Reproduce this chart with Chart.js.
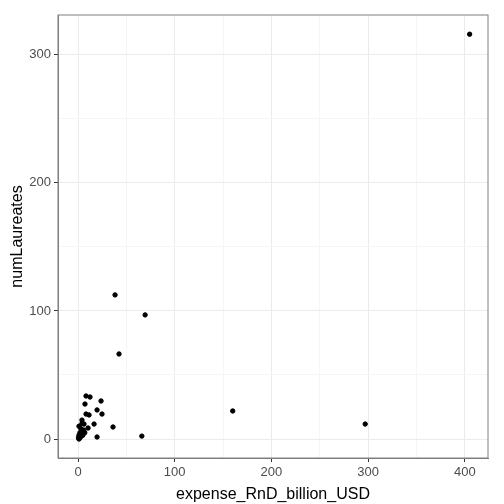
<!DOCTYPE html>
<html>
<head>
<script src="https://cdn.jsdelivr.net/npm/chart.js@4"></script>
<style>body{margin:0;background:#fff}#wrap{width:504px;height:504px}</style>
</head>
<body>
<div id="wrap"><canvas id="c"></canvas></div>
<script>
const expense = [8.3, 12.4, 23.8, 7.2, 19.7, 8.3, 11.4, 24.8, 4.1, 16.6, 6.2, 36.2, 10.4, 19.7, 66,
  1, 2, 3, 1, 4, 2, 5, 3, 6, 1, 4, 0.5, 2, 5, 7,
  38.3, 69.4, 42.4, 160, 297, 405];
const laureates = [33.6, 32.8, 29.7, 27.3, 22.7, 19.5, 18.8, 19.5, 14.8, 11.7, 11.7, 9.4, 8.6, 1.6, 2.3,
  0, 1, 2, 3, 4, 5, 6, 8, 7, 10, 12, 1, 2, 3, 5,
  112.5, 96.9, 66.4, 21.9, 11.7, 316];
const xTicks = [0, 50, 100, 150, 200, 250, 300, 350, 400];
const yTicks = [0, 50, 100, 150, 200, 250, 300];
const points = expense.map((x, i) => ({x: x, y: laureates[i]}));

const isMajor = ctx => ctx.tick && ctx.tick.value % 100 === 0;
const gridColor = ctx => isMajor(ctx) ? '#ebebeb' : '#f5f5f5';
const tickColor = ctx => isMajor(ctx) ? '#333' : 'rgba(0,0,0,0)';
const tickCb = v => (v % 100 === 0 ? v : '');
const font = {family: 'Liberation Sans', size: 13};

new Chart(document.getElementById('c'), {
  type: 'scatter',
  data: {datasets: [{data: points, backgroundColor: '#000', borderColor: '#000', pointRadius: 2.2}]},
  options: {
    responsive: true, maintainAspectRatio: false, animation: false,
    layout: {padding: {top: 15, right: 16, left: 8, bottom: 0}},
    plugins: {legend: {display: false}, tooltip: {enabled: false}},
    scales: {
      x: {
        min: -20.7, max: 424,
        afterBuildTicks: s => { s.ticks = xTicks.map(v => ({value: v})); },
        ticks: {callback: tickCb, color: '#4d4d4d', font: font, maxRotation: 0, autoSkip: false},
        grid: {color: gridColor, tickColor: tickColor, tickLength: 4},
        border: {color: '#7f7f7f'},
        title: {display: true, text: 'expense_RnD_billion_USD', color: '#000', font: {family: 'Liberation Sans', size: 16}, padding: 0},
        afterFit: s => { s.height = 46; }
      },
      y: {
        min: -14.8, max: 331,
        afterBuildTicks: s => { s.ticks = yTicks.map(v => ({value: v})); },
        ticks: {callback: tickCb, color: '#4d4d4d', font: font, autoSkip: false},
        grid: {color: gridColor, tickColor: tickColor, tickLength: 4},
        border: {color: '#7f7f7f'},
        title: {display: true, text: 'numLaureates', color: '#000', font: {family: 'Liberation Sans', size: 16}, padding: 0},
        afterFit: s => { s.width = 50; }
      }
    }
  },
  plugins: [{
    id: 'frame',
    afterDraw(chart) {
      const a = chart.chartArea, c = chart.ctx;
      c.save(); c.strokeStyle = '#7f7f7f'; c.lineWidth = 1;
      c.strokeRect(a.left, a.top, a.right - a.left, a.bottom - a.top);
      c.restore();
    }
  }]
});
</script>
</body>
</html>
